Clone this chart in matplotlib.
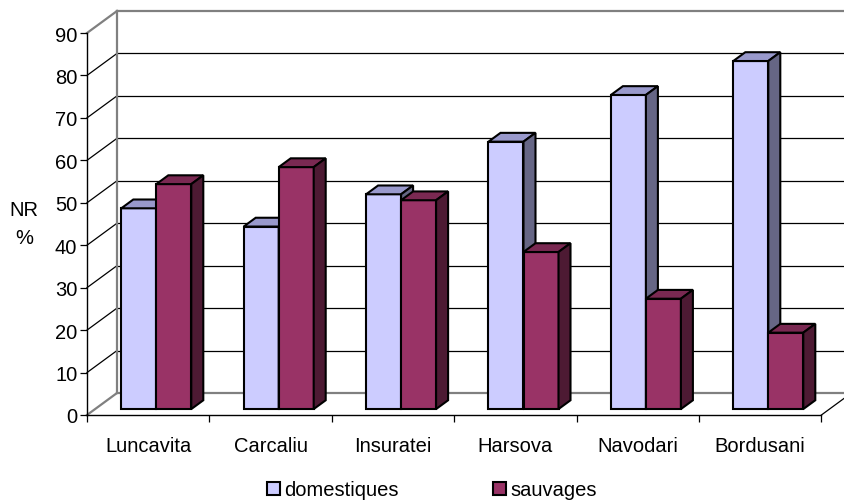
import matplotlib
matplotlib.use("Agg")
from matplotlib import pyplot as plt
from matplotlib.patches import Polygon, Rectangle


sites = ["Luncavita", "Carcaliu", "Insuratei", "Harsova", "Navodari", "Bordusani"]
domestiques = [47.3, 43, 50.6, 63, 74, 82]
sauvages = [53, 57, 49.2, 37, 26, 18]
series_names = ["domestiques", "sauvages"]
y_ticks = [0, 10, 20, 30, 40, 50, 60, 70, 80, 90]

# front / top / side shades for each series
FACES = [
    ("#ccccff", "#9999cc", "#666685"),
    ("#993366", "#7a2952", "#4d1a33"),
]

W_PX, H_PX = 845, 502
AX_LEFT, AX_BOTTOM, AX_W, AX_H = 87, 86, 734.4, 382

plt.rcParams["font.family"] = ["Liberation Sans", "DejaVu Sans"]
plt.rcParams["font.size"] = 14.5

fig = plt.figure(figsize=(W_PX / 100, H_PX / 100), dpi=100)
ax = fig.add_axes([AX_LEFT / W_PX, AX_BOTTOM / H_PX, AX_W / W_PX, AX_H / H_PX])
n = len(sites)
ax.set_xlim(0, n)
ax.set_ylim(0, 90)

# depth of the fake 3d box, in data units
px_x = n / AX_W
px_y = 90 / AX_H
DX, DY = 30 * px_x, 22 * px_y
F0 = 0.27      # depth where bar front faces sit
BD = 0.40      # bar depth
BW = 35 / 122.4  # bar width in category units
EDGE = 1.5

grey = "#808080"
kw = dict(clip_on=False, lw=0.9)

# side wall + back wall
for v in y_ticks:
    edge = v in (0, 90)
    ax.plot([0, DX], [v, v + DY], color=grey if edge else "black",
            zorder=1, **(dict(clip_on=False, lw=1.6) if edge else kw))
    ax.plot([DX, n + DX], [v + DY, v + DY], color=grey if edge else "black",
            zorder=1, **(dict(clip_on=False, lw=1.6) if edge else kw))
ax.plot([DX, DX], [DY, 90 + DY], color=grey, zorder=1, clip_on=False, lw=1.6)
ax.plot([n, n + DX], [0, DY], color="black", zorder=1, **kw)

# bars
for i in range(n):
    for s, vals in enumerate([domestiques, sauvages]):
        v = vals[i]
        front, top_c, side_c = FACES[s]
        x0 = i + 0.5 + (s - 1) * BW + F0 * DX
        base = F0 * DY
        top = base + v
        z = 3 + i * 2 + s
        ax.bar(x0, v, bottom=base, width=BW, align="edge", color=front,
               edgecolor="black", linewidth=EDGE, zorder=z)
        ox, oy = BD * DX, BD * DY
        ax.add_patch(Polygon([(x0, top), (x0 + BW, top), (x0 + BW + ox, top + oy),
                              (x0 + ox, top + oy)], closed=True, facecolor=top_c,
                             edgecolor="black", linewidth=EDGE, zorder=z,
                             joinstyle="miter", clip_on=False))
        ax.add_patch(Polygon([(x0 + BW, base), (x0 + BW + ox, base + oy),
                              (x0 + BW + ox, top + oy), (x0 + BW, top)], closed=True,
                             facecolor=side_c, edgecolor="black", linewidth=EDGE,
                             zorder=z, joinstyle="miter", clip_on=False))

for side in ("top", "right"):
    ax.spines[side].set_visible(False)
for side in ("left", "bottom"):
    ax.spines[side].set_linewidth(1.0)
    ax.spines[side].set_zorder(20)

ax.set_yticks(y_ticks)
ax.tick_params(axis="y", length=5, width=0.9, pad=2)
ax.set_xticks(range(n + 1))
ax.set_xticklabels([])
ax.set_xticks([i + 0.5 for i in range(n)], minor=True)
ax.set_xticklabels(sites, minor=True)
ax.tick_params(axis="x", which="major", length=5, width=0.9)
ax.tick_params(axis="x", which="minor", length=0, pad=15)

ax.set_ylabel("NR\n%", rotation=0, va="center", ha="center", linespacing=1.6)
ax.yaxis.set_label_coords(-(AX_LEFT - 24) / AX_W, 0.5)

handles = [Rectangle((0, 0), 1, 1, facecolor=FACES[s][0], edgecolor="black", linewidth=1.5)
           for s in range(2)]
fig.legend(handles, series_names, loc="center", bbox_to_anchor=(432 / W_PX, 1 - 491 / H_PX),
           ncol=2, frameon=False, handlelength=0.65, handleheight=0.65,
           handletextpad=0.2, columnspacing=4.7, borderpad=0)

fig.savefig("out.png", dpi=100)
